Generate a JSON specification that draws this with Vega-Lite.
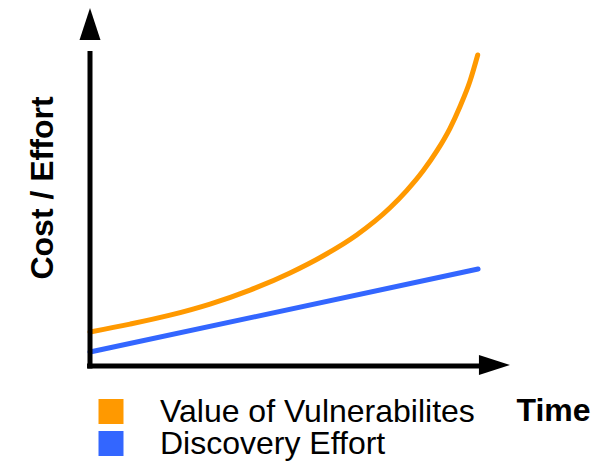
{
  "$schema": "https://vega.github.io/schema/vega-lite/v6.json",
  "autosize": "none",
  "padding": {"left": 90, "top": 8, "right": 94, "bottom": 97},
  "width": 420,
  "height": 358,
  "config": {
    "view": {"stroke": null},
    "font": "Liberation Sans"
  },
  "datasets": {
    "curves": [
      {"series": "Value of Vulnerabilites", "t": 0, "v": 9.5},
      {"series": "Value of Vulnerabilites", "t": 9.52, "v": 11.7},
      {"series": "Value of Vulnerabilites", "t": 19.05, "v": 14.2},
      {"series": "Value of Vulnerabilites", "t": 28.57, "v": 17.3},
      {"series": "Value of Vulnerabilites", "t": 38.1, "v": 21.2},
      {"series": "Value of Vulnerabilites", "t": 47.62, "v": 26.0},
      {"series": "Value of Vulnerabilites", "t": 55.55, "v": 30.8},
      {"series": "Value of Vulnerabilites", "t": 63.5, "v": 36.6},
      {"series": "Value of Vulnerabilites", "t": 71.43, "v": 44.2},
      {"series": "Value of Vulnerabilites", "t": 75.4, "v": 49.0},
      {"series": "Value of Vulnerabilites", "t": 79.36, "v": 54.6},
      {"series": "Value of Vulnerabilites", "t": 82.55, "v": 60.0},
      {"series": "Value of Vulnerabilites", "t": 85.71, "v": 66.4},
      {"series": "Value of Vulnerabilites", "t": 88.1, "v": 72.5},
      {"series": "Value of Vulnerabilites", "t": 90.48, "v": 79.6},
      {"series": "Value of Vulnerabilites", "t": 92.31, "v": 86.87},
      {"series": "Discovery Effort", "t": 0, "v": 3.9},
      {"series": "Discovery Effort", "t": 92.4, "v": 27.1}
    ],
    "shafts": [
      {"x": 0, "x2": 0, "y": -0.7, "y2": 88},
      {"x": -0.7, "x2": 95, "y": 0, "y2": 0}
    ],
    "heads": [
      {"dir": "up", "x": 0, "y": 95.5},
      {"dir": "right", "x": 96.3, "y": 0.3}
    ]
  },
  "layer": [
    {
      "data": {"name": "curves"},
      "mark": {"type": "line", "strokeWidth": 5, "strokeCap": "round", "interpolate": "monotone"},
      "encoding": {
        "x": {
          "field": "t", "type": "quantitative",
          "scale": {"domain": [0, 100], "nice": false, "zero": false},
          "axis": {
            "domain": false, "ticks": false, "labels": false, "grid": false,
            "title": "Time", "titleFontSize": 32, "titleFontWeight": "bold",
            "titleFont": "Liberation Sans", "titleColor": "black",
            "titleX": 463, "titleY": 54, "titleAlign": "center", "titleBaseline": "alphabetic"
          }
        },
        "y": {
          "field": "v", "type": "quantitative",
          "scale": {"domain": [0, 100], "nice": false, "zero": false},
          "axis": {
            "domain": false, "ticks": false, "labels": false, "grid": false,
            "title": "Cost / Effort", "titleFontSize": 32, "titleFontWeight": "bold",
            "titleFont": "Liberation Sans", "titleColor": "black", "titleAngle": -90,
            "titleX": -38, "titleY": 179.5, "titleAlign": "center", "titleBaseline": "alphabetic"
          }
        },
        "color": {
          "field": "series", "type": "nominal",
          "scale": {"domain": ["Value of Vulnerabilites", "Discovery Effort"], "range": ["#FF9900", "#3366FF"]},
          "legend": {
            "title": null,
            "orient": "none",
            "legendX": 5,
            "legendY": 387.5,
            "padding": 0,
            "symbolType": "square",
            "symbolSize": 625,
            "symbolStrokeWidth": 0,
            "labelFontSize": 32,
            "labelFont": "Liberation Sans",
            "labelColor": "black",
            "labelOffset": 33,
            "labelLimit": 0,
            "rowPadding": -2.5,
            "encode": {
              "symbols": {"update": {"fill": {"scale": "color", "field": "value"}, "strokeWidth": {"value": 0}, "opacity": {"value": 1}}}
            }
          }
        }
      }
    },
    {
      "data": {"name": "shafts"},
      "mark": {"type": "rule", "strokeWidth": 5, "color": "black"},
      "encoding": {
        "x": {"field": "x", "type": "quantitative"},
        "x2": {"field": "x2"},
        "y": {"field": "y", "type": "quantitative"},
        "y2": {"field": "y2"}
      }
    },
    {
      "data": {"name": "heads"},
      "mark": {"type": "point", "filled": true, "color": "black", "opacity": 1, "strokeWidth": 0},
      "encoding": {
        "x": {"field": "x", "type": "quantitative"},
        "y": {"field": "y", "type": "quantitative"},
        "shape": {
          "field": "dir", "type": "nominal",
          "scale": {"domain": ["up", "right"], "range": ["M-0.656,1L0,-1L0.656,1Z", "M-1,-0.645L1,0L-1,0.645Z"]},
          "legend": null
        },
        "size": {
          "field": "dir", "type": "nominal",
          "scale": {"domain": ["up", "right"], "range": [1024, 961]},
          "legend": null
        }
      }
    }
  ]
}
